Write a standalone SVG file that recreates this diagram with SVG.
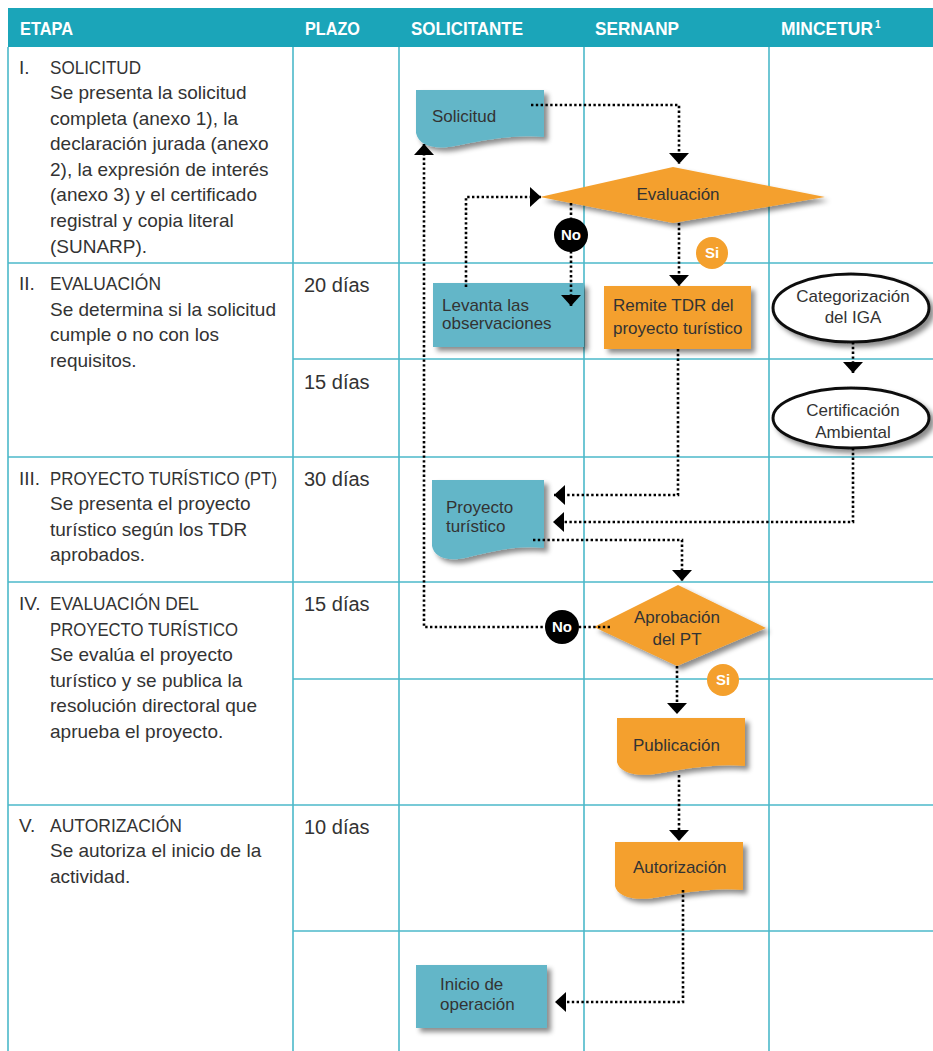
<svg xmlns="http://www.w3.org/2000/svg" width="933" height="1051" viewBox="0 0 933 1051">
<style>
.hd{font-family:"Liberation Sans",Arial,sans-serif;font-weight:bold;font-size:18px;fill:#fff}
.lt{font-family:"Liberation Sans",Arial,sans-serif;font-size:19px;fill:#333}
.up{font-size:17.5px}
.pz{font-family:"Liberation Sans",Arial,sans-serif;font-size:20px;fill:#333}
.nt{font-family:"Liberation Sans",Arial,sans-serif;font-size:17px;fill:#333}
.bd{font-family:"Liberation Sans",Arial,sans-serif;font-size:15px;font-weight:bold;fill:#fff}
.grid{stroke:#4CB9CA;stroke-width:1.6;fill:none}
.teal{fill:#64B6C8;filter:url(#sh)}
.orange{fill:#F4A02D;filter:url(#sh)}
.ell{fill:#fff;stroke:#111;stroke-width:3;filter:url(#sh)}
.dot{fill:none;stroke:#000;stroke-width:2.6;stroke-dasharray:2.4 2.4;marker-end:url(#ah)}
</style>
<defs>
<filter id="sh" x="-20%" y="-20%" width="150%" height="160%">
<feDropShadow dx="4" dy="4" stdDeviation="2.5" flood-color="#000" flood-opacity="0.45"/>
</filter>
<marker id="ah" viewBox="0 0 11 20" refX="11" refY="10" markerWidth="11" markerHeight="20" markerUnits="userSpaceOnUse" orient="auto">
<path d="M0,0 L11,10 L0,20 Z" fill="#000"/>
</marker>
</defs>
<rect width="933" height="1051" fill="#fff"/>
<g id="table">
<rect x="8" y="8" width="925" height="39" fill="#1BA5B9"/>
<text class="hd" x="20" y="35" textLength="53" lengthAdjust="spacingAndGlyphs">ETAPA</text>
<text class="hd" x="305" y="35" textLength="55" lengthAdjust="spacingAndGlyphs">PLAZO</text>
<text class="hd" x="411" y="35" textLength="112" lengthAdjust="spacingAndGlyphs">SOLICITANTE</text>
<text class="hd" x="595" y="35" textLength="84" lengthAdjust="spacingAndGlyphs">SERNANP</text>
<text class="hd" x="781" y="35" textLength="92" lengthAdjust="spacingAndGlyphs">MINCETUR</text>
<text class="hd" x="875" y="28" style="font-size:10px">1</text>
<path class="grid" d="M8,47 V1051 M293,47 V1051 M399,47 V1051 M584,47 V1051 M769,47 V1051 M8,263 H933 M293,359 H933 M8,457 H933 M8,582 H933 M293,679 H933 M8,805 H933 M293,931 H933"/>
</g>
<g id="etapas">
<text class="lt" x="19" y="74">I.</text>
<text class="lt up" x="50" y="74" textLength="91" lengthAdjust="spacingAndGlyphs">SOLICITUD</text>
<text class="lt" x="50" y="99">Se presenta la solicitud</text>
<text class="lt" x="50" y="125">completa (anexo 1), la</text>
<text class="lt" x="50" y="150">declaración jurada (anexo</text>
<text class="lt" x="50" y="176">2), la expresión de interés</text>
<text class="lt" x="50" y="201">(anexo 3) y el certificado</text>
<text class="lt" x="50" y="227">registral y copia literal</text>
<text class="lt" x="50" y="253">(SUNARP).</text>
<text class="lt" x="19" y="290">II.</text>
<text class="lt up" x="50" y="290" textLength="111" lengthAdjust="spacingAndGlyphs">EVALUACIÓN</text>
<text class="lt" x="50" y="316">Se determina si la solicitud</text>
<text class="lt" x="50" y="341">cumple o no con los</text>
<text class="lt" x="50" y="367">requisitos.</text>
<text class="lt" x="19" y="485">III.</text>
<text class="lt up" x="50" y="485" textLength="227" lengthAdjust="spacingAndGlyphs">PROYECTO TURÍSTICO (PT)</text>
<text class="lt" x="50" y="510">Se presenta el proyecto</text>
<text class="lt" x="50" y="536">turístico según los TDR</text>
<text class="lt" x="50" y="561">aprobados.</text>
<text class="lt" x="19" y="610">IV.</text>
<text class="lt up" x="50" y="610" textLength="149" lengthAdjust="spacingAndGlyphs">EVALUACIÓN DEL</text>
<text class="lt up" x="50" y="636" textLength="188" lengthAdjust="spacingAndGlyphs">PROYECTO TURÍSTICO</text>
<text class="lt" x="50" y="661">Se evalúa el proyecto</text>
<text class="lt" x="50" y="687">turístico y se publica la</text>
<text class="lt" x="50" y="712">resolución directoral que</text>
<text class="lt" x="50" y="738">aprueba el proyecto.</text>
<text class="lt" x="19" y="832">V.</text>
<text class="lt up" x="50" y="832" textLength="132" lengthAdjust="spacingAndGlyphs">AUTORIZACIÓN</text>
<text class="lt" x="50" y="857">Se autoriza el inicio de la</text>
<text class="lt" x="50" y="883">actividad.</text>
</g>
<g id="plazos">
<text class="pz" x="304" y="292">20 días</text>
<text class="pz" x="304" y="389">15 días</text>
<text class="pz" x="304" y="486">30 días</text>
<text class="pz" x="304" y="611">15 días</text>
<text class="pz" x="304" y="834">10 días</text>
</g>
<g id="solicitud">
<path class="teal" d="M416,90 H544 V137 C512,134 480,141 455,146 C435,150 419,146 416,133 Z"/>
<text class="nt" x="432" y="122">Solicitud</text>
</g>
<g id="evaluacion">
<path class="orange" d="M540,197 L673,167 L825,197 L673,223 Z"/>
<text class="nt" x="678" y="200" text-anchor="middle">Evaluación</text>
</g>
<g id="levanta">
<rect class="teal" x="433" y="283" width="151" height="64"/>
<text class="nt" x="442" y="311">Levanta las</text>
<text class="nt" x="442" y="329">observaciones</text>
</g>
<g id="remite">
<rect class="orange" x="604" y="286" width="147" height="63"/>
<text class="nt" x="613" y="311">Remite TDR del</text>
<text class="nt" x="613" y="334">proyecto turístico</text>
</g>
<g id="categorizacion">
<ellipse class="ell" cx="851" cy="308" rx="78" ry="34"/>
<text class="nt" x="853" y="302" text-anchor="middle">Categorización</text>
<text class="nt" x="853" y="323" text-anchor="middle">del IGA</text>
</g>
<g id="certificacion">
<ellipse class="ell" cx="851" cy="418" rx="78" ry="30"/>
<text class="nt" x="853" y="416" text-anchor="middle">Certificación</text>
<text class="nt" x="853" y="438" text-anchor="middle">Ambiental</text>
</g>
<g id="proyecto">
<path class="teal" d="M432,480 H544 V548 C515,545 490,552 465,558 C445,562 434,556 432,546 Z"/>
<text class="nt" x="446" y="513">Proyecto</text>
<text class="nt" x="446" y="532">turístico</text>
</g>
<g id="aprobacion">
<path class="orange" d="M594,627 L678,585 L766,628 L677,666 Z"/>
<text class="nt" x="677" y="623" text-anchor="middle">Aprobación</text>
<text class="nt" x="677" y="645" text-anchor="middle">del PT</text>
</g>
<g id="publicacion">
<path class="orange" d="M617,718 H745 V766 C713,763 680,770 655,774 C635,777 619,772 617,762 Z"/>
<text class="nt" x="633" y="751">Publicación</text>
</g>
<g id="autorizacion">
<path class="orange" d="M615,842 H743 V890 C711,887 678,894 653,898 C633,901 617,896 615,886 Z"/>
<text class="nt" x="633" y="873">Autorización</text>
</g>
<g id="inicio">
<rect class="teal" x="416" y="965" width="131" height="63"/>
<text class="nt" x="440" y="990">Inicio de</text>
<text class="nt" x="440" y="1010">operación</text>
</g>
<g id="connectors">
<path class="dot" d="M531,105 H679 V164"/>
<path class="dot" d="M571,203 V306"/>
<path class="dot" d="M466,287 V197 H541"/>
<path class="dot" d="M679,223 V286"/>
<path class="dot" d="M678,349 V495 H554"/>
<path class="dot" d="M853,342 V373"/>
<path class="dot" d="M853,448 V522 H553"/>
<path class="dot" d="M533,540 H682 V581"/>
<path class="dot" d="M610,627 H424 V144"/>
<path class="dot" d="M677,666 V714"/>
<path class="dot" d="M679,775 V841"/>
<path class="dot" d="M683,890 V1002 H555"/>
</g>
<g id="no1">
<circle cx="571" cy="235" r="17" fill="#000"/>
<text class="bd" x="571" y="240" text-anchor="middle">No</text>
</g>
<g id="si1">
<circle cx="712" cy="253" r="16" fill="#F4A02D"/>
<text class="bd" x="712" y="258" text-anchor="middle">Si</text>
</g>
<g id="no2">
<circle cx="562" cy="627" r="17" fill="#000"/>
<text class="bd" x="562" y="632" text-anchor="middle">No</text>
</g>
<g id="si2">
<circle cx="723" cy="680" r="16" fill="#F4A02D"/>
<text class="bd" x="723" y="685" text-anchor="middle">Si</text>
</g>
</svg>
